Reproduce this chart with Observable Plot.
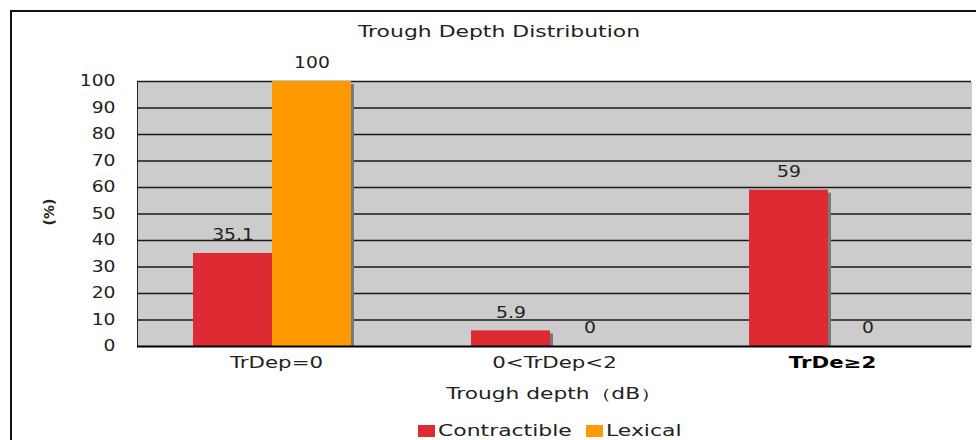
<!DOCTYPE html>
<html>
<head>
<meta charset="utf-8">
<script src="https://cdn.jsdelivr.net/npm/d3@7"></script>
<script src="https://cdn.jsdelivr.net/npm/@observablehq/plot@0.6"></script>
<style>
  html, body { margin: 0; padding: 0; background: #fff; overflow: hidden; }
  body { width: 976px; height: 440px; position: relative; font-family: "DejaVu Sans", sans-serif; color: #222; }
  #frame { position: absolute; left: 10px; top: 10px; width: 990px; height: 460px; border: 2px solid #111; box-sizing: border-box; }
  #title { position: absolute; left: 0; width: 998px; top: 23px; text-align: center; font-size: 15px; transform: scaleX(1.46); transform-origin: 499px 0; }
  #chart { position: absolute; left: 0; top: 40px; }
  #ylab { position: absolute; left: 36px; top: 204px; font-size: 14px; font-weight: bold; transform: rotate(-90deg); }
  #xlab { position: absolute; left: 0; width: 1108px; top: 385px; text-align: center; font-size: 15px; transform: scaleX(1.45); transform-origin: 554px 0; }
  #legend { position: absolute; left: 418px; top: 422px; display: flex; align-items: center; font-size: 15px; }
  #legend .sw { display: inline-block; width: 17px; height: 12px; margin-right: 3px; }
  #legend .item { display: flex; align-items: center; margin-right: 14px; }
  #legend .lbl { display: inline-block; transform-origin: 0 50%; white-space: nowrap; }
</style>
</head>
<body>
<div id="frame"></div>
<div id="title">Trough Depth Distribution</div>
<div id="chart"></div>
<div id="ylab">(%)</div>
<div id="xlab">Trough depth（dB）</div>
<div id="legend"></div>
<script>
const categories = ["TrDep=0", "0<TrDep<2", "TrDe≥2"];
const series = ["Contractible", "Lexical"];
const contractible = [35.1, 5.9, 59];
const lexical = [100, 0, 0];
const yTicks = [0, 10, 20, 30, 40, 50, 60, 70, 80, 90, 100];
const colors = ["#de2a33", "#ff9900"];

const rows = [];
categories.forEach((c, i) => {
  rows.push({category: c, series: series[0], value: contractible[i]});
  rows.push({category: c, series: series[1], value: lexical[i]});
});

const chart = Plot.plot({
  width: 976,
  height: 370,
  marginLeft: 137,
  marginRight: 5,
  marginTop: 41,
  marginBottom: 64,
  style: {fontFamily: "DejaVu Sans, sans-serif", fontSize: "15px", color: "#222", background: "transparent", overflow: "visible"},
  fx: {domain: categories, padding: 0, axis: null},
  x: {domain: series, paddingInner: 0, paddingOuter: 0.74, align: 0.47, axis: null},
  y: {domain: [0, 100], ticks: yTicks, tickSize: 0, tickPadding: 22, line: true, label: null},
  color: {domain: series, range: colors},
  marks: [
    Plot.frame({fill: "#cccccc", stroke: null, shapeRendering: "crispEdges"}),
    Plot.ruleY(yTicks.filter(d => d > 0), {stroke: "#1a1a1a", strokeWidth: 1.3}),
    Plot.barY(rows, {fx: "category", x: "series", y: "value", fill: "#7a7a7a", dx: 3, insetTop: 3}),
    Plot.barY(rows, {fx: "category", x: "series", y: "value", fill: "series"}),
    Plot.ruleY([0], {stroke: "#000", strokeWidth: 2}),
    Plot.text(rows, {fx: "category", x: "series", y: "value", text: d => String(d.value), dy: -18, fill: "#222"}),
    Plot.text(categories.filter((d, i) => i < 2), {fx: d => d, text: d => d, frameAnchor: "bottom", dy: 21, fill: "#222"}),
    Plot.text(categories.filter((d, i) => i === 2), {fx: d => d, text: d => d, frameAnchor: "bottom", dy: 21, fill: "#000", fontWeight: "bold"})
  ]
});
document.getElementById("chart").appendChild(chart);

// widen the glyphs like the reference's stretched Gothic font
chart.querySelectorAll("text").forEach(t => {
  const s = t.textContent;
  if (!s) return;
  const f = /^[\d.]+$/.test(s) ? 1.25 : 1.42;
  const w = t.getComputedTextLength();
  t.setAttribute("textLength", w * f);
  t.setAttribute("lengthAdjust", "spacingAndGlyphs");
});

const legend = document.getElementById("legend");
series.forEach((s, i) => {
  const item = document.createElement("span");
  item.className = "item";
  const sw = document.createElement("span");
  sw.className = "sw";
  sw.style.background = colors[i];
  const lbl = document.createElement("span");
  lbl.className = "lbl";
  lbl.textContent = s;
  item.appendChild(sw);
  item.appendChild(lbl);
  legend.appendChild(item);
  const w = lbl.offsetWidth;
  lbl.style.transform = "scaleX(1.46)";
  lbl.style.width = (w * 1.46) + "px";
});
</script>
</body>
</html>
